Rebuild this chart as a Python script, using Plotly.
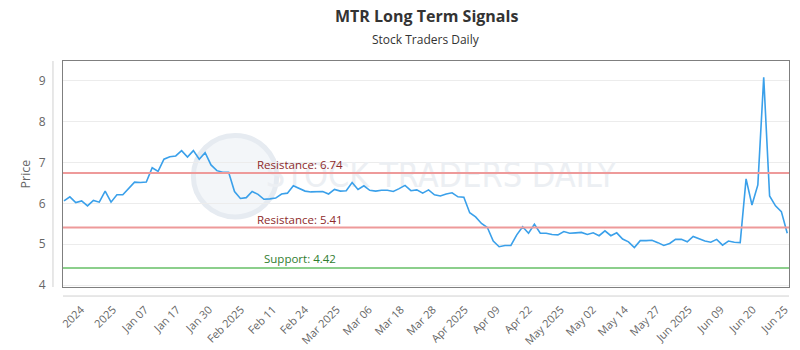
import plotly.graph_objects as go

# ---- data ----
prices = [
    6.06, 6.16, 6.02, 6.06, 5.94, 6.07, 6.03, 6.30, 6.03, 6.21,
    6.21, 6.37, 6.52, 6.51, 6.52, 6.87, 6.78, 7.08, 7.14, 7.16,
    7.29, 7.13, 7.29, 7.08, 7.24, 6.94, 6.80, 6.76, 6.76, 6.29,
    6.12, 6.14, 6.29, 6.22, 6.10, 6.11, 6.13, 6.23, 6.25, 6.43,
    6.36, 6.30, 6.28, 6.28, 6.29, 6.23, 6.34, 6.30, 6.31, 6.51,
    6.34, 6.43, 6.32, 6.30, 6.32, 6.32, 6.29, 6.36, 6.44, 6.31,
    6.33, 6.25, 6.33, 6.21, 6.18, 6.23, 6.26, 6.16, 6.15, 5.77,
    5.67, 5.51, 5.41, 5.08, 4.94, 4.97, 4.97, 5.23, 5.43, 5.27,
    5.49, 5.27, 5.27, 5.24, 5.23, 5.31, 5.27, 5.28, 5.29, 5.24,
    5.28, 5.21, 5.33, 5.21, 5.28, 5.13, 5.06, 4.92, 5.09, 5.09,
    5.10, 5.04, 4.97, 5.02, 5.12, 5.12, 5.06, 5.19, 5.13, 5.08,
    5.05, 5.12, 4.98, 5.08, 5.05, 5.04, 6.60, 5.96, 6.45, 9.08,
    6.18, 5.94, 5.80, 5.27,
]
sessions = list(range(len(prices)))

tick_labels = [
    "2024", "2025", "Jan 07", "Jan 17", "Jan 30", "Feb 2025", "Feb 11",
    "Feb 24", "Mar 2025", "Mar 06", "Mar 18", "Mar 28", "Apr 2025",
    "Apr 09", "Apr 22", "May 2025", "May 02", "May 14", "May 27",
    "Jun 2025", "Jun 09", "Jun 20", "Jun 25",
]

resistance_levels = [6.74, 5.41]
support_levels = [4.42]

title_text = "MTR Long Term Signals"
subtitle_text = "Stock Traders Daily"
watermark_text = "STOCK TRADERS DAILY"

# ---- layout helpers ----
first_tick, tick_step = 2.9, 5.44
tick_vals = [first_tick + k * tick_step for k in range(len(tick_labels))]

FONT = "Open Sans, Noto Sans, sans-serif"

fig = go.Figure()

# watermark text, drawn first so it sits beneath the price line
fig.add_trace(go.Scatter(
    x=[64.1], y=[6.62], mode="text", text=[watermark_text],
    textposition="middle center",
    textfont=dict(family="DejaVu Sans Condensed, Liberation Sans Narrow, sans-serif",
                  size=34, color="#eceff3"),
    hoverinfo="skip", showlegend=False,
))

fig.add_trace(go.Scatter(
    x=sessions, y=prices, mode="lines",
    line=dict(color="#3aa0ea", width=1.6),
    hoverinfo="y", showlegend=False,
))

shapes = []
annotations = []

# watermark logo circle
shapes.append(dict(type="circle", xref="x", yref="y", layer="below",
                   x0=22.0, x1=36.2, y0=5.67, y1=7.66,
                   line=dict(color="#e6ebf1", width=5), fillcolor="#f3f6f9"))

for lvl in resistance_levels:
    shapes.append(dict(type="line", xref="paper", yref="y", x0=0, x1=1, y0=lvl, y1=lvl,
                       line=dict(color="#ee9a9a", width=2)))
    annotations.append(dict(text=f"Resistance: {lvl:.2f}", x=40.1, y=lvl, xref="x", yref="y",
                            showarrow=False, xanchor="center", yanchor="bottom", yshift=-1,
                            font=dict(family=FONT, size=11.5, color="#8e2b2b")))
for lvl in support_levels:
    shapes.append(dict(type="line", xref="paper", yref="y", x0=0, x1=1, y0=lvl, y1=lvl,
                       line=dict(color="#8ccf8c", width=2)))
    annotations.append(dict(text=f"Support: {lvl:.2f}", x=40.1, y=lvl, xref="x", yref="y",
                            showarrow=False, xanchor="center", yanchor="bottom", yshift=0,
                            font=dict(family=FONT, size=11.5, color="#2f7d2f")))

# extra light frame lines (left offset axis / bottom navigator line)
shapes.append(dict(type="line", xref="paper", yref="paper", x0=-0.0138, x1=-0.0138, y0=0, y1=1,
                   line=dict(color="#d0d0d0", width=1)))
shapes.append(dict(type="line", xref="paper", yref="paper", x0=0, x1=1, y0=-0.04, y1=-0.04,
                   line=dict(color="#d0d0d0", width=1)))

# title + subtitle
annotations.append(dict(text=f"<b>{title_text}</b>", x=0.5, y=1.199, xref="paper", yref="paper",
                        showarrow=False, xanchor="center", yanchor="middle",
                        font=dict(family=FONT, size=16, color="#333333")))
annotations.append(dict(text=subtitle_text, x=0.5, y=1.093, xref="paper", yref="paper",
                        showarrow=False, xanchor="center", yanchor="middle",
                        font=dict(family=FONT, size=12, color="#333333")))

fig.update_layout(
    width=800, height=350,
    margin=dict(l=63, r=11, t=61, b=63),
    paper_bgcolor="white", plot_bgcolor="white",
    shapes=shapes,
    annotations=annotations,
    xaxis=dict(range=[-0.17, 123.3], tickmode="array", tickvals=tick_vals, ticktext=tick_labels,
               tickangle=-45, tickfont=dict(family=FONT, size=11, color="#666666"),
               showgrid=False, zeroline=False, showline=True, mirror=True,
               linecolor="#7f7f7f", linewidth=1, automargin=False,
               ticks="outside", ticklen=11, tickcolor="rgba(0,0,0,0)"),
    yaxis=dict(range=[3.956, 9.48], tickvals=[4, 5, 6, 7, 8, 9],
               tickfont=dict(family=FONT, size=12, color="#666666"),
               showgrid=True, gridcolor="#ececec", gridwidth=1, zeroline=False,
               showline=True, mirror=True, linecolor="#7f7f7f", linewidth=1, automargin=False,
               ticks="outside", ticklen=14, tickcolor="rgba(0,0,0,0)",
               title=dict(text="Price", font=dict(family=FONT, size=12.5, color="#666666"),
                          standoff=5)),
)

fig.write_html("out.html")
